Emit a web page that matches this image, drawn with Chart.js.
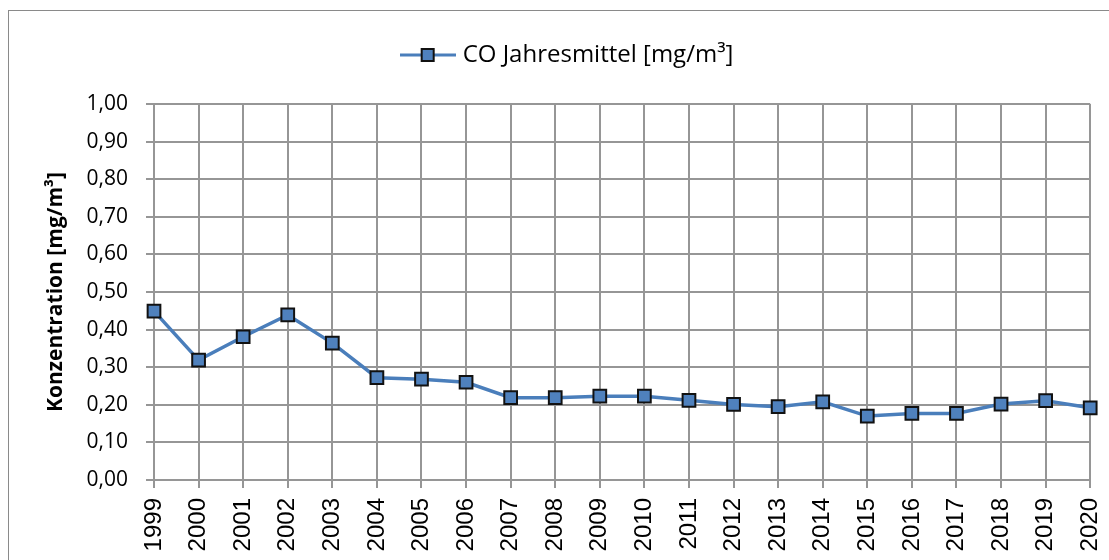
<!DOCTYPE html>
<html>
<head>
<meta charset="utf-8">
<script src="https://cdn.jsdelivr.net/npm/chart.js@4/dist/chart.umd.min.js"></script>
<style>
  html, body { margin: 0; padding: 0; background: #fff; overflow: hidden; }
  #frame { position: absolute; left: 8px; top: 10px; border-left: 1px solid #8a8a8a; border-top: 1px solid #8a8a8a; }
  canvas { display: block; }
</style>
</head>
<body>
<div id="frame"><canvas id="mycanvas" width="1120" height="560"></canvas></div>
<script>
var years = ['1999', '2000', '2001', '2002', '2003', '2004', '2005', '2006', '2007', '2008', '2009',
             '2010', '2011', '2012', '2013', '2014', '2015', '2016', '2017', '2018', '2019', '2020'];
var coMean = [0.449, 0.319, 0.381, 0.439, 0.364, 0.272, 0.268, 0.260, 0.219, 0.219, 0.223,
              0.223, 0.212, 0.201, 0.195, 0.208, 0.170, 0.177, 0.177, 0.202, 0.211, 0.192];
var seriesLabel = 'CO Jahresmittel [mg/m³]';
var axisTitle = 'Konzentration [mg/m³]';

var blue = '#4A7EBB';
var markerFill = '#4F81BD';
var gridColor = '#969696';

// legend symbol: line with square marker
var legendIcon = document.createElement('canvas');
legendIcon.width = 56;
legendIcon.height = 18;
var lc = legendIcon.getContext('2d');
lc.strokeStyle = blue;
lc.lineWidth = 3;
lc.beginPath();
lc.moveTo(0, 9);
lc.lineTo(56, 9);
lc.stroke();
lc.fillStyle = markerFill;
lc.fillRect(22, 3, 12, 12);
lc.strokeStyle = '#111';
lc.lineWidth = 2;
lc.strokeRect(22, 3, 12, 12);

var ctx = document.getElementById('mycanvas');

var lineGraph = new Chart(ctx, {
    type: 'line',
    data: {
        labels: years,
        datasets: [{
            label: seriesLabel,
            data: coMean,
            borderColor: blue,
            borderWidth: 3.5,
            backgroundColor: markerFill,
            pointStyle: 'rect',
            pointRadius: 9,
            pointBorderColor: '#111',
            pointBorderWidth: 2,
            pointBackgroundColor: markerFill,
            tension: 0
        }]
    },
    options: {
        responsive: false,
        animation: false,
        layout: { padding: { left: 0, right: 0, top: 22, bottom: 0 } },
        plugins: {
            legend: {
                display: true,
                labels: {
                    usePointStyle: true,
                    pointStyle: legendIcon,
                    pointStyleWidth: 46,
                    color: '#000',
                    padding: 10,
                    font: { family: 'Open Sans', size: 24 },
                    generateLabels: function(chart) {
                        return [{
                            text: seriesLabel,
                            pointStyle: legendIcon,
                            fontColor: '#000',
                            lineWidth: 0,
                            datasetIndex: 0
                        }];
                    }
                }
            },
            // empty spacer between legend and plot
            subtitle: {
                display: true,
                text: '',
                weight: 500,
                font: { size: 10 },
                padding: { top: 15, bottom: 0 }
            },
            tooltip: { enabled: false }
        },
        scales: {
            x: {
                offset: false,
                grid: { color: gridColor, lineWidth: 2, tickLength: 8, drawOnChartArea: true },
                border: { color: gridColor, width: 2 },
                ticks: {
                    color: '#000',
                    minRotation: 90,
                    maxRotation: 90,
                    autoSkip: false,
                    padding: 10,
                    font: { family: 'Liberation Sans', size: 24 }
                },
                afterFit: function(scale) { scale.height = 91; }
            },
            y: {
                min: 0,
                max: 1,
                grid: { color: gridColor, lineWidth: 2, tickLength: 8 },
                border: { color: gridColor, width: 2 },
                ticks: {
                    stepSize: 0.1,
                    color: '#000',
                    padding: 18,
                    font: { family: 'Open Sans', size: 21 },
                    callback: function(v) { return v.toFixed(2).replace('.', ','); }
                },
                title: {
                    display: true,
                    text: axisTitle,
                    color: '#000',
                    font: { family: 'Open Sans', size: 21, weight: 'bold' },
                    padding: { top: 34, bottom: 0 }
                },
                afterFit: function(scale) { scale.width = 145; }
            },
            // empty right margin so the legend centres on the whole frame
            yRight: {
                position: 'right',
                min: 0,
                max: 1,
                grid: { display: false },
                border: { display: false },
                ticks: { display: false },
                afterFit: function(scale) { scale.width = 37; }
            }
        }
    }
});
</script>
</body>
</html>
